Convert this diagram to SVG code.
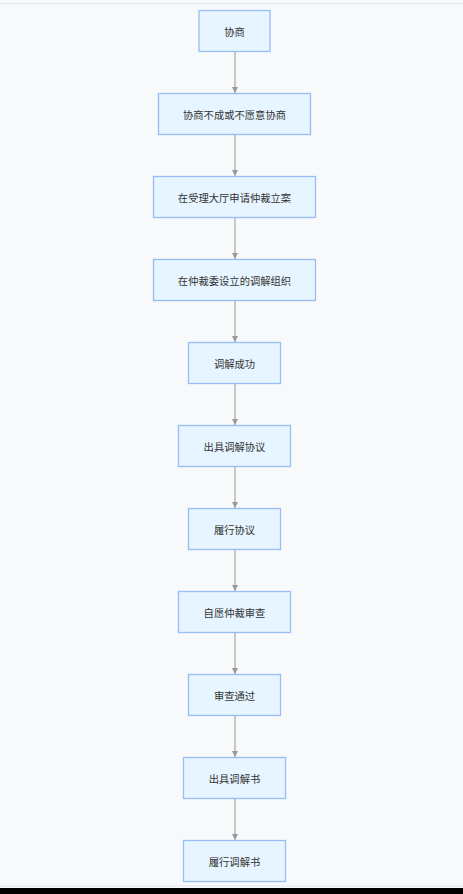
<svg xmlns="http://www.w3.org/2000/svg" width="463" height="894" viewBox="0 0 463 894">
<defs>
<style>
.node rect{fill:#e6f5ff;stroke:#97bdf7;stroke-width:1.3}
.node text{font-family:"Noto Sans CJK SC","Noto Sans",sans-serif;font-size:10.3px;fill:#333;text-anchor:middle;dominant-baseline:central}
.edge{stroke:#a6a6a6;stroke-width:1.2;fill:none;marker-end:url(#arr)}
</style>
<marker id="arr" viewBox="0 0 10 10" refX="10" refY="5" markerWidth="6" markerHeight="6" markerUnits="userSpaceOnUse" orient="auto">
<path d="M0,0 L10,5 L0,10 z" fill="#999"/>
</marker>
</defs>
<rect x="0" y="0" width="463" height="894" fill="#f8f9fb"/>
<line x1="0" y1="3.5" x2="463" y2="3.5" stroke="#e4e6ea" stroke-width="1"/>
<line x1="0" y1="886" x2="463" y2="886" stroke="#e4e6ea" stroke-width="1"/>
<rect x="0" y="888" width="463" height="6" fill="#000"/>
<g id="edges">
<line class="edge" x1="235" y1="51" x2="235" y2="93"/>
<line class="edge" x1="235" y1="134" x2="235" y2="176"/>
<line class="edge" x1="235" y1="217" x2="235" y2="259"/>
<line class="edge" x1="235" y1="300" x2="235" y2="342"/>
<line class="edge" x1="235" y1="383" x2="235" y2="425"/>
<line class="edge" x1="235" y1="466" x2="235" y2="508"/>
<line class="edge" x1="235" y1="549" x2="235" y2="591"/>
<line class="edge" x1="235" y1="632" x2="235" y2="674"/>
<line class="edge" x1="235" y1="715" x2="235" y2="757"/>
<line class="edge" x1="235" y1="798" x2="235" y2="840"/>
</g>
<g id="n1" class="node"><rect x="199" y="10.5" width="71" height="41"/><text x="234.5" y="31">协商</text></g>
<g id="n2" class="node"><rect x="158.5" y="93.5" width="152" height="41"/><text x="234.5" y="114">协商不成或不愿意协商</text></g>
<g id="n3" class="node"><rect x="153.5" y="176.5" width="162" height="41"/><text x="234.5" y="197">在受理大厅申请仲裁立案</text></g>
<g id="n4" class="node"><rect x="153.5" y="259.5" width="162" height="41"/><text x="234.5" y="280">在仲裁委设立的调解组织</text></g>
<g id="n5" class="node"><rect x="188.5" y="342.5" width="92" height="41"/><text x="234.5" y="363">调解成功</text></g>
<g id="n6" class="node"><rect x="178.5" y="425.5" width="112" height="41"/><text x="234.5" y="446">出具调解协议</text></g>
<g id="n7" class="node"><rect x="188.5" y="508.5" width="92" height="41"/><text x="234.5" y="529">履行协议</text></g>
<g id="n8" class="node"><rect x="178.5" y="591.5" width="112" height="41"/><text x="234.5" y="612">自愿仲裁审查</text></g>
<g id="n9" class="node"><rect x="188.5" y="674.5" width="92" height="41"/><text x="234.5" y="695">审查通过</text></g>
<g id="n10" class="node"><rect x="183.5" y="757.5" width="102" height="41"/><text x="234.5" y="778">出具调解书</text></g>
<g id="n11" class="node"><rect x="183.5" y="840.5" width="102" height="41"/><text x="234.5" y="861">履行调解书</text></g>
</svg>
